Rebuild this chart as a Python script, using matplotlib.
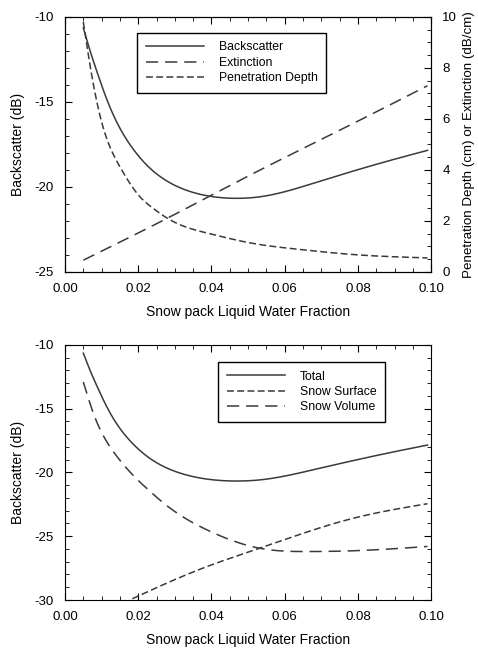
import numpy as np
import matplotlib
matplotlib.use("Agg")
import matplotlib.pyplot as plt
from matplotlib.ticker import MultipleLocator, FormatStrFormatter

plt.rcParams["font.family"] = ["Liberation Sans", "DejaVu Sans"]
plt.rcParams["axes.unicode_minus"] = False

# ------------------------------------------------------------
# Data
# ------------------------------------------------------------
# total backscatter (dB), same curve in both panels
lwf = [0.005, 0.007, 0.009, 0.0115, 0.015, 0.0187, 0.0232, 0.0278, 0.0332,
       0.0396, 0.0478, 0.0533, 0.0597, 0.0688, 0.0779, 0.087, 0.099]
backscatter = [-10.65, -12.1, -13.4, -14.9, -16.55, -17.8, -18.9, -19.65, -20.2,
               -20.55, -20.67, -20.58, -20.3, -19.72, -19.12, -18.55, -17.85]

# penetration depth (cm), right axis
pd_x = [0.005, 0.0069, 0.0096, 0.015, 0.0205, 0.0241, 0.028, 0.0395,
        0.0505, 0.0642, 0.0779, 0.099]
pen_depth = [9.8, 8.05, 6.1, 4.12, 2.94, 2.49, 2.1, 1.5,
             1.14, 0.88, 0.69, 0.55]

# extinction (dB/cm), right axis
ext_x = [0.005, 0.028, 0.0514, 0.0751, 0.099]
extinction = [0.46, 2.11, 3.86, 5.56, 7.3]

# bottom panel components (dB)
surf_x = [0.0184, 0.030, 0.0395, 0.0505, 0.0642, 0.0779, 0.099]
surface = [-29.9, -28.4, -27.3, -26.2, -24.85, -23.65, -22.45]

vol_x = [0.005, 0.0078, 0.0096, 0.0138, 0.0187, 0.0229, 0.0278, 0.0395,
         0.0533, 0.0669, 0.0806, 0.099]
volume = [-12.9, -15.4, -16.63, -18.6, -20.25, -21.4, -22.6, -24.6,
          -25.95, -26.2, -26.12, -25.8]


def smooth(xp, yp, x):
    # natural cubic spline through the read-off points (drawing only)
    xp = np.asarray(xp, float)
    yp = np.asarray(yp, float)
    n = len(xp)
    h = np.diff(xp)
    A = np.zeros((n, n))
    r = np.zeros(n)
    A[0, 0] = A[-1, -1] = 1.0
    for k in range(1, n - 1):
        A[k, k - 1] = h[k - 1]
        A[k, k] = 2 * (h[k - 1] + h[k])
        A[k, k + 1] = h[k]
        r[k] = 6 * ((yp[k + 1] - yp[k]) / h[k] - (yp[k] - yp[k - 1]) / h[k - 1])
    M = np.linalg.solve(A, r)
    i = np.clip(np.searchsorted(xp, x) - 1, 0, n - 2)
    a = xp[i + 1] - x
    b = x - xp[i]
    hi = h[i]
    return (M[i] * a**3 / (6 * hi) + M[i + 1] * b**3 / (6 * hi)
            + (yp[i] / hi - M[i] * hi / 6) * a
            + (yp[i + 1] / hi - M[i + 1] * hi / 6) * b)


col = "#3a3a3a"
lw = 1.1
long_dash = (0, (8, 4.5))
short_dash = (0, (4.5, 2.2))
tick_fs = 9.5
label_fs = 10
leg_fs = 8.8


def style_axes(ax, right_ticks=True):
    ax.tick_params(which="both", direction="in", top=True, right=right_ticks,
                   labelsize=tick_fs, pad=8)
    ax.tick_params(which="major", length=5)
    ax.tick_params(which="minor", length=3)
    ax.xaxis.set_major_locator(MultipleLocator(0.02))
    ax.xaxis.set_minor_locator(MultipleLocator(0.005))
    ax.xaxis.set_major_formatter(FormatStrFormatter("%.2f"))
    ax.yaxis.set_major_locator(MultipleLocator(5))
    ax.yaxis.set_minor_locator(MultipleLocator(1))


def add_legend(ax, handles, labels, anchor):
    leg = ax.legend(handles, labels, loc="upper left", bbox_to_anchor=anchor,
                    fontsize=leg_fs, frameon=True, fancybox=False,
                    edgecolor="black", framealpha=1, handlelength=4.8,
                    handletextpad=1.2, borderpad=0.7, labelspacing=0.28,
                    borderaxespad=0)
    leg.get_frame().set_linewidth(1.0)
    return leg


fig = plt.figure(figsize=(4.78, 6.49), dpi=100)

# ============================================================
# Top panel
# ============================================================
ax1 = fig.add_axes([0.136, 0.581, 0.766, 0.393])
x1 = np.linspace(lwf[0], lwf[-1], 400)
ax1.plot(x1, smooth(lwf, backscatter, x1), color=col, lw=lw, label="Backscatter")
ax1.set_xlim(0, 0.1)
ax1.set_ylim(-25, -10)
style_axes(ax1, right_ticks=False)
ax1.set_xlabel("Snow pack Liquid Water Fraction", fontsize=label_fs, labelpad=7)
ax1.set_ylabel("Backscatter (dB)", fontsize=label_fs, labelpad=7)

ax1r = ax1.twinx()
xe = np.linspace(ext_x[0], ext_x[-1], 200)
ax1r.plot(xe, smooth(ext_x, extinction, xe), color=col, lw=lw,
          linestyle=long_dash, label="Extinction")
xp = np.linspace(pd_x[0], pd_x[-1], 400)
ax1r.plot(xp, smooth(pd_x, pen_depth, xp), color=col, lw=lw,
          linestyle=short_dash, label="Penetration Depth")
ax1r.set_ylim(0, 10)
ax1r.yaxis.set_major_locator(MultipleLocator(2))
ax1r.yaxis.set_minor_locator(MultipleLocator(0.5))
ax1r.tick_params(which="both", direction="in", labelsize=tick_fs, pad=8)
ax1r.tick_params(which="major", length=5)
ax1r.tick_params(which="minor", length=3)
ax1r.set_ylabel("Penetration Depth (cm) or Extinction (dB/cm)", fontsize=9.6,
                labelpad=4)

h1, l1 = ax1.get_legend_handles_labels()
h2, l2 = ax1r.get_legend_handles_labels()
add_legend(ax1r, h1 + h2, l1 + l2, (0.197, 0.937))

# ============================================================
# Bottom panel
# ============================================================
ax2 = fig.add_axes([0.136, 0.0755, 0.766, 0.393])
ax2.plot(x1, smooth(lwf, backscatter, x1), color=col, lw=lw, label="Total")
xs = np.linspace(surf_x[0], surf_x[-1], 300)
ax2.plot(xs, smooth(surf_x, surface, xs), color=col, lw=lw,
         linestyle=short_dash, label="Snow Surface")
xv = np.linspace(vol_x[0], vol_x[-1], 400)
ax2.plot(xv, smooth(vol_x, volume, xv), color=col, lw=lw,
         linestyle=long_dash, label="Snow Volume")
ax2.set_xlim(0, 0.1)
ax2.set_ylim(-30, -10)
style_axes(ax2)
ax2.set_xlabel("Snow pack Liquid Water Fraction", fontsize=label_fs, labelpad=7)
ax2.set_ylabel("Backscatter (dB)", fontsize=label_fs, labelpad=7)
h, l = ax2.get_legend_handles_labels()
add_legend(ax2, h, l, (0.418, 0.933))

fig.savefig("out.png", dpi=100)
